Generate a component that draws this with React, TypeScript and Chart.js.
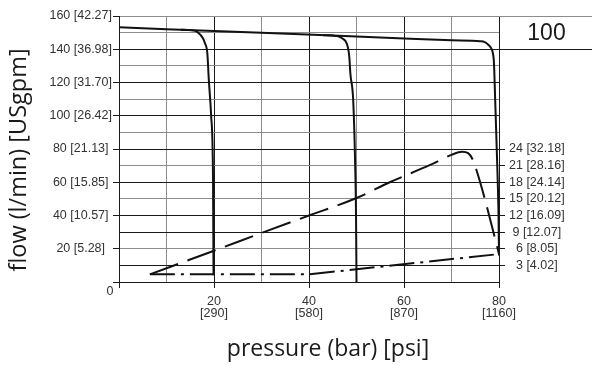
import React, { useEffect, useRef } from 'react';
import { Chart, registerables } from 'chart.js';

Chart.register(...registerables);

// ---- tick labels ----
const pressureBar = [20, 40, 60, 80];
const pressurePsi = ['290', '580', '870', '1160'];
const flowLpm = [20, 40, 60, 80, 100, 120, 140, 160];
const flowUsgpm = ['5.28', '10.57', '15.85', '21.13', '26.42', '31.70', '36.98', '42.27'];
const powerKw = [3, 6, 9, 12, 15, 18, 21, 24];
const powerHp = ['4.02', '8.05', '12.07', '16.09', '20.12', '24.14', '28.16', '32.18'];

// ---- grid ----
const pressureGrid = [0, 10, 20, 30, 40, 50, 60, 70, 80];
const flowGrid = [0, 10, 20, 30, 40, 50, 60, 70, 80, 90, 100, 110, 120, 130, 140, 150, 160];
const darkPressureGrid = [0, 20, 40, 60, 80];
const darkFlowGrid = [0, 10, 30, 40, 60, 80, 100, 120, 140];
const majorPressureTicks = [0, 20, 40, 60, 80];
const majorFlowTicks = [0, 20, 40, 60, 80, 100, 120, 140, 160];

const sizeLabel = '100';
const xTitle = 'pressure (bar) [psi]';
const yTitle = 'flow (l/min) [USgpm]';

// ---- curves (pressure bar, flow l/min) ----
const mainX = [0, 30, 60, 70, 76, 77, 77.8, 78.4, 78.65, 78.9, 79.0, 79.2, 79.6, 79.9, 80];
const mainY = [153.2, 149.9, 146.5, 145.4, 144.8, 144.3, 142.6, 140.4, 138.5, 133.5, 127.5, 109, 73, 40, 16];

const curve20X = [13, 15, 16.3, 17.1, 17.7, 18.1, 18.6, 18.9, 19.4, 19.8, 19.9];
const curve20Y = [151.8, 151.5, 150.8, 148.8, 146.5, 143.6, 137.5, 122, 100, 61, 4];

const curve50X = [43, 45, 46.3, 47.2, 47.7, 48.2, 48.5, 48.7, 49.3, 49.7, 49.9, 50];
const curve50Y = [148.4, 148.2, 147.6, 146.2, 144.8, 141, 135, 125.7, 109.5, 73, 40, 0];

const dashedX = [6.5, 20, 30, 40, 50, 57, 65.5, 70, 72.2, 73.5, 74.5, 75.4, 76.6, 78.8, 80];
const dashedY = [4.6, 18.8, 29.5, 40, 50.5, 60, 70.4, 76.5, 78.4, 77.5, 73.5, 66, 54.3, 30.3, 16.8];

const dashDotX = [6.5, 40, 80];
const dashDotY = [4.6, 4.6, 16.8];

const DARK = '#1a1a1a';
const GRAY = '#8c8c8c';
const TEXT = '#333333';
const TICK_FONT = { family: '"Liberation Sans", Arial, sans-serif', size: 12.5, lineHeight: 1 };

const pts = (xs: number[], ys: number[]) => xs.map((x, i) => ({ x, y: ys[i] }));
const toTicks = (vals: number[]) => vals.map((value) => ({ value }));

const decor = {
  id: 'decor',
  afterDraw(chart: any) {
    const { ctx, chartArea, scales } = chart;
    const y = scales.y;
    const x = scales.x;
    const W = chart.width;
    const align = (p: number) => Math.floor(p) + 0.5;
    ctx.save();
    // box at top-right
    const yTop = align(y.getPixelForValue(160));
    const yMid = align(y.getPixelForValue(140));
    ctx.lineWidth = 1;
    ctx.strokeStyle = GRAY;
    ctx.beginPath();
    ctx.moveTo(chartArea.right, yTop);
    ctx.lineTo(W, yTop);
    ctx.stroke();
    ctx.strokeStyle = DARK;
    ctx.beginPath();
    ctx.moveTo(chartArea.right, yMid);
    ctx.lineTo(W, yMid);
    ctx.stroke();
    ctx.fillStyle = '#1a1a1a';
    ctx.font = '23px "Liberation Sans", Arial, sans-serif';
    ctx.textAlign = 'center';
    ctx.textBaseline = 'middle';
    ctx.fillText(sizeLabel, (chartArea.right + W) / 2 + 1, (yTop + yMid) / 2 + 1);

    // corner zero
    ctx.fillStyle = TEXT;
    ctx.font = '12.5px "Liberation Sans", Arial, sans-serif';
    ctx.fillText('0', x.getPixelForValue(0) - 9, y.getPixelForValue(0) + 10);

    // axis titles
    ctx.fillStyle = '#1a1a1a';
    ctx.font = '23px "Open Sans", sans-serif';
    ctx.fillText(xTitle, 328, 349);
    ctx.translate(19, 160);
    ctx.rotate(-Math.PI / 2);
    ctx.font = '23.5px "Open Sans", sans-serif';
    ctx.fillText(yTitle, 0, 0);
    ctx.restore();
  },
};

export default function App() {
  const ref = useRef<HTMLCanvasElement>(null);

  useEffect(() => {
    if (!ref.current) return;
    const lineBase = {
      borderColor: '#111111',
      borderWidth: 2,
      pointRadius: 0,
      fill: false,
    };
    const chart = new Chart(ref.current, {
      type: 'line',
      data: {
        datasets: [
          { ...lineBase, data: pts(mainX, mainY), cubicInterpolationMode: 'monotone' },
          { ...lineBase, data: pts(curve20X, curve20Y), cubicInterpolationMode: 'monotone' },
          { ...lineBase, data: pts(curve50X, curve50Y), cubicInterpolationMode: 'monotone' },
          { ...lineBase, data: pts(dashedX, dashedY), cubicInterpolationMode: 'monotone', borderDash: [30, 10] },
          { ...lineBase, data: pts(dashDotX, dashDotY), tension: 0, borderDash: [25, 6, 3, 6] },
        ] as any,
      },
      options: {
        responsive: false,
        animation: false,
        devicePixelRatio: 1,
        layout: { padding: { top: 16, left: 0, right: 0, bottom: 0 } },
        plugins: { legend: { display: false }, tooltip: { enabled: false } },
        scales: {
          x: {
            type: 'linear',
            position: 'bottom',
            min: 0,
            max: 80,
            afterBuildTicks: (s: any) => { s.ticks = toTicks(pressureGrid); },
            afterFit: (s: any) => { s.height = 85; },
            grid: {
              color: (c: any) => (darkPressureGrid.includes(c.tick?.value) ? DARK : GRAY),
              lineWidth: 1,
              tickLength: 6,
              tickColor: (c: any) => (majorPressureTicks.includes(c.tick?.value) ? DARK : 'rgba(0,0,0,0)'),
            },
            border: { display: true, color: DARK, width: 1 },
            ticks: {
              autoSkip: false,
              maxRotation: 0,
              minRotation: 0,
              padding: 7,
              color: TEXT,
              font: TICK_FONT,
              callback: (v: any) => {
                const i = pressureBar.indexOf(Number(v));
                return i >= 0 ? [String(pressureBar[i]), `[${pressurePsi[i]}]`] : '';
              },
            },
          },
          y: {
            type: 'linear',
            position: 'left',
            min: 0,
            max: 160,
            afterBuildTicks: (s: any) => { s.ticks = toTicks(flowGrid); },
            afterFit: (s: any) => { s.width = 119; },
            grid: {
              color: (c: any) => (darkFlowGrid.includes(c.tick?.value) ? DARK : GRAY),
              lineWidth: 1,
              tickLength: 6,
              tickColor: (c: any) => (majorFlowTicks.includes(c.tick?.value) ? DARK : 'rgba(0,0,0,0)'),
            },
            border: { display: true, color: DARK, width: 1 },
            ticks: {
              autoSkip: false,
              crossAlign: 'center',
              padding: 1,
              color: TEXT,
              font: TICK_FONT,
              callback: (v: any) => {
                const i = flowLpm.indexOf(Number(v));
                return i >= 0 ? `${flowLpm[i]} [${flowUsgpm[i]}]` : '';
              },
            },
          },
          y2: {
            type: 'linear',
            position: 'right',
            min: 0,
            max: 48,
            afterBuildTicks: (s: any) => { s.ticks = toTicks(powerKw); },
            afterFit: (s: any) => { s.width = 93; },
            grid: {
              drawOnChartArea: false,
              tickLength: 6,
              tickColor: DARK,
              lineWidth: 1,
            },
            border: { display: true, color: DARK, width: 1 },
            ticks: {
              autoSkip: false,
              crossAlign: 'center',
              padding: 4,
              color: TEXT,
              font: TICK_FONT,
              callback: (v: any) => {
                const i = powerKw.indexOf(Number(v));
                return i >= 0 ? `${powerKw[i]} [${powerHp[i]}]` : '';
              },
            },
          },
        },
      } as any,
      plugins: [decor],
    });
    return () => chart.destroy();
  }, []);

  return (
    <div style={{ position: 'absolute', left: 0, top: 0, width: 592, height: 367, background: '#fff' }}>
      <canvas ref={ref} width={592} height={367} style={{ width: 592, height: 367, display: 'block' }} />
    </div>
  );
}
